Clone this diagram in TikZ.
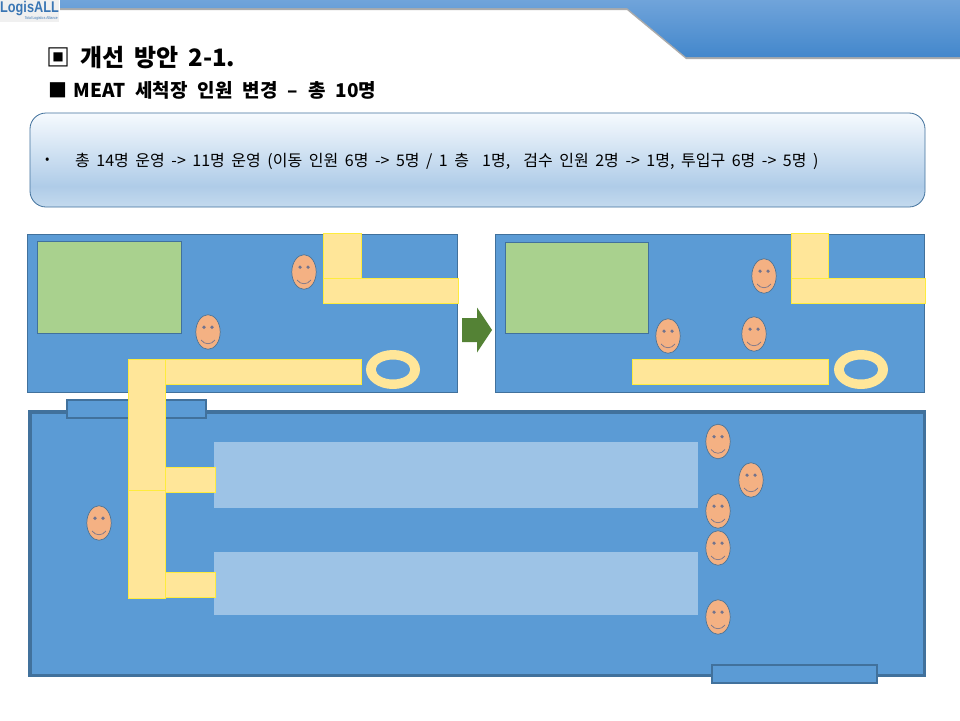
\documentclass[tikz,border=0pt]{standalone}
\usepackage{fontspec}
\setmainfont{Noto Sans CJK KR}
\newfontfamily\logofont[FakeStretch=0.82]{Liberation Sans}
\usepackage{xcolor}
\usetikzlibrary{calc,positioning}
\definecolor{panelblue}{HTML}{5B9BD5}
\definecolor{edgeblue}{HTML}{41719C}
\definecolor{greenbox}{HTML}{A9D18E}
\definecolor{stripfill}{HTML}{FFE699}
\definecolor{lanefill}{HTML}{9DC3E6}
\definecolor{facefill}{HTML}{F4B183}
\definecolor{arrowgreen}{HTML}{548235}
\definecolor{headtop}{HTML}{70A4DA}
\definecolor{headbot}{HTML}{4387CC}
\definecolor{logoblue}{HTML}{3A76B4}
\definecolor{memotop}{HTML}{F6FAFE}
\definecolor{memomid}{HTML}{AFCCE8}
\definecolor{memobot}{HTML}{C4DAEE}
\pgfdeclareverticalshading{memoshade}{100bp}{color(0bp)=(memobot);color(25bp)=(memobot);color(36bp)=(memomid);color(75bp)=(memotop);color(100bp)=(memotop)}
\tikzset{panel/.style={draw=edgeblue,fill=panelblue,line width=0.8pt},
  hall/.style={draw=edgeblue,fill=panelblue,line width=3.5pt},
  door/.style={draw=edgeblue,fill=panelblue,line width=1.5pt},
  greenbox/.style={draw=edgeblue,fill=greenbox,line width=0.8pt},
  strip/.style={draw=yellow!60!stripfill,fill=stripfill,line width=0.8pt},
  lane/.style={fill=lanefill},
  memo/.style={draw=edgeblue,rounded corners=16pt,shading=memoshade,line width=0.8pt},
  ring/.style={fill=stripfill,even odd rule},
  face/.pic={
    \draw[draw=edgeblue!80!gray,fill=facefill,line width=0.7pt] (0,0) ellipse [x radius=12.2,y radius=17.3];
    \fill[gray!90!blue] (-4,-4.8) circle (1.8) (4,-4.8) circle (1.8);
    \draw[gray!90!blue,line width=0.7pt] (-7,8) .. controls (-3,13) and (3,13) .. (7,8);
  }}
\begin{document}
\begin{tikzpicture}[x=1pt,y=-1pt]
\useasboundingbox (0,0) rectangle (960,720);
\fill[white] (0,0) rectangle (960,720);
% header band
\fill[black!60,opacity=0.55] (60,0)--(960,0)--(960,59)--(686,59)--(627,10)--(60,10)--cycle;
\shade[top color=headtop,bottom color=headbot] (60,0)--(960,0)--(960,57)--(686,57)--(627,8)--(60,8)--cycle;
\fill[gray!12] (0,0) rectangle (59,22);
\node[anchor=west,inner sep=0pt,text=logoblue] (logo) at (0,8.5) {\logofont\bfseries\fontsize{15.5}{15}\selectfont LogisALL};
\node[anchor=east,inner sep=0pt,text=logoblue] (tagline) at (58,18.5) {\logofont\fontsize{4}{4}\selectfont Total Logistics Alliance};
% titles
\node[anchor=west,inner sep=0pt] (title) at (46,58) {\bfseries\fontsize{24}{28}\selectfont\spaceskip=10pt ▣ 개선 방안 2-1.};
\node[anchor=west,inner sep=0pt] (subtitle) at (48,90) {\bfseries\fontsize{19}{23}\selectfont\spaceskip=10pt ■\hspace{6.5pt}MEAT 세척장 인원 변경 – 총 10명};
% memo box
\path[memo] (30,113) rectangle (925,207);
\node[anchor=west,inner sep=0pt] (bullet) at (45,161) {\fontsize{13}{16}\selectfont •};
\node[anchor=west,inner sep=0pt] (memotext) at (75,161) {\fontsize{16}{20}\selectfont\spaceskip=6.55pt 총 14명 운영 -> 11명 운영 (이동 인원 6명 -> 5명 / 1 층~~1명,~~검수 인원 2명 -> 1명, 투입구 6명 -> 5명 )};
% upper panels
\draw[panel] (27,234) rectangle (457.5,392);
\draw[panel] (495,234) rectangle (924.5,392);
\draw[greenbox] (37,241) rectangle (181,333);
\draw[greenbox] (505,242) rectangle (648,333);
% hall
\draw[hall] (30,412) rectangle (924.5,675.5);
\draw[door] (67,400) rectangle (206,418);
\draw[door] (712,665) rectangle (877,683);
\fill[lane] (214,442) rectangle (698,508);
\fill[lane] (214,552) rectangle (698,615);
% strips, before
\draw[strip] (323,233) rectangle (361,278);
\draw[strip] (323,278) rectangle (458,303);
\draw[strip] (165,359) rectangle (361,384);
\draw[strip] (165,467) rectangle (215,492);
\draw[strip] (165,572) rectangle (215,597);
\draw[strip] (128,359) rectangle (165.5,490);
\draw[strip] (128,490) rectangle (165.5,598);
% strips, after
\draw[strip] (791,233) rectangle (828,278);
\draw[strip] (791,278) rectangle (925,303);
\draw[strip] (632,359) rectangle (828,384);
\foreach \x in {393,861}{
  \fill[ring] (\x,369.5) ellipse [x radius=27,y radius=19.5] (\x,369.5) ellipse [x radius=17.3,y radius=10];
}
% arrow
\fill[arrowgreen] (462,318)--(477,318)--(477,307.5)--(492,330)--(477,352.5)--(477,342)--(462,342)--cycle;
% people
\foreach \x/\y in {304/272,208/332,764/276,668/336,754/334,718/441.5,751/480,718/511,718/548,718/617,99/523}{
  \pic at (\x,\y) {face};
}
\end{tikzpicture}
\end{document}
